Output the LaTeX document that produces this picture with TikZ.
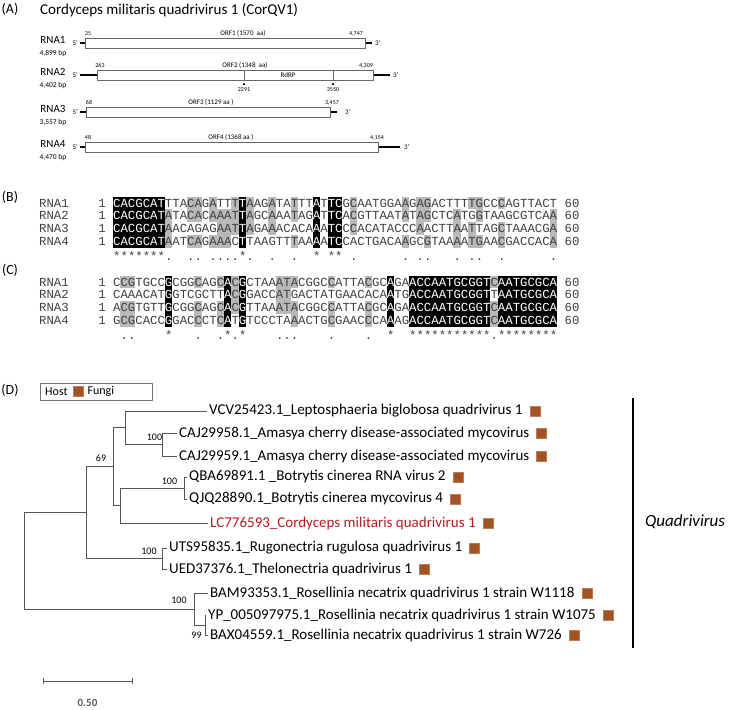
\documentclass[tikz,border=0pt]{standalone}
\usepackage{fontspec}
\setmainfont{Carlito}
\newfontfamily\seqfont{Liberation Mono}
\usetikzlibrary{positioning}

\definecolor{fungi}{RGB}{163,82,34}
\definecolor{alngray}{RGB}{185,185,185}
\definecolor{cordred}{RGB}{180,30,35}
\definecolor{treeline}{RGB}{85,85,85}

\newcommand\w[1]{\textcolor{white}{#1}}

\tikzset{
  panel/.style={font=\fontsize{14}{16}\selectfont, inner sep=0},
  rnaname/.style={font=\fontsize{11}{12}\selectfont, inner sep=0},
  bplab/.style={font=\fontsize{7.5}{8}\selectfont, inner sep=0},
  numlab/.style={font=\fontsize{6}{7}\selectfont, inner sep=0, anchor=base},
  orflab/.style={font=\fontsize{7}{8}\selectfont, inner sep=0, anchor=base},
  endlab/.style={font=\fontsize{7}{8}\selectfont, inner sep=0},
  orf/.style={draw=black!60, fill=white, line width=0.8pt, minimum height=10pt, inner sep=0, anchor=west},
  tail/.style={line width=1.8pt},
  seq/.style={font=\seqfont\fontsize{12.33}{13}\selectfont, inner sep=0, anchor=base west, text=black!75},
  leaf/.style={font=\fontsize{15}{17}\selectfont, inner xsep=2pt, inner ysep=0, anchor=west},
  host/.style={fill=fungi, draw=fungi!75!white, line width=0.6pt, minimum size=10pt, inner sep=0},
  boot/.style={font=\fontsize{10}{11}\selectfont, inner sep=0},
  br/.style={draw=treeline, line width=1pt},
}

% conserved columns (col) and 3-of-4 columns (col/odd row)
\def\bBlack{1,2,3,4,5,6,7,18,28,30,31}
\def\bGray{8/1,11/3,12/3,14/3,15/1,16/1,17/4,19/4,22/4,25/3,33/4,40/3,42/4,43/3,47/1,49/2,50/3,53/2,60/1}
\def\cBlack{8,16,18,38,41,42,43,44,45,46,47,48,49,50,51,53,54,55,56,57,58,59,60}
\def\cGray{2/2,3/2,12/2,15/2,17/4,23/4,24/4,25/2,30/2,35/2,52/2}

\begin{document}
\begin{tikzpicture}[x=1pt,y=-1pt]
\useasboundingbox (0,0) rectangle (729,710);

% (A) genome organisation
\node[panel] (labA) at (10,9) {(A)};
\node[font=\fontsize{15}{17}\selectfont, anchor=west, inner sep=0] (title) at (40,10) {Cordyceps militaris quadrivirus 1 (CorQV1)};

\node[rnaname] (rna1) at (53,40) {RNA1};
\node[bplab] (bp1) at (53,53) {4,899 bp};
\node[endlab, anchor=east] (five1) at (78,43) {5'};
\coordinate (s1) at (80,43);
\node[orf, minimum width=280pt] (orf1) at (85,43) {};
\coordinate (t1) at (372,43);
\node[endlab, anchor=west] (three1) at (375,43) {3'};
\draw[tail] (s1) -- (orf1.west);
\draw[tail] (orf1.east) -- (t1);
\node[numlab] (p1a) at (88,35) {35};
\node[orflab] (orf1lab) at (243,35) {ORF1 (1570~ aa)};
\node[numlab] (p1b) at (356,35) {4,747};

\node[rnaname] (rna2) at (53,72) {RNA2};
\node[bplab] (bp2) at (53,85) {4,402 bp};
\node[endlab, anchor=east] (five2) at (78,75) {5'};
\coordinate (s2) at (80,75);
\node[orf, minimum width=276pt] (orf2) at (97,75) {};
\coordinate (t2) at (390,75);
\node[endlab, anchor=west] (three2) at (393,75) {3'};
\draw[tail] (s2) -- (orf2.west);
\draw[tail] (orf2.east) -- (t2);
\node[numlab] (p2a) at (100,67) {263};
\node[orflab] (orf2lab) at (245,67) {ORF2 (1348~ aa)};
\node[numlab] (p2b) at (366,67) {4,309};
\draw[black!60, line width=0.8pt] (244,70) -- (244,80);
\draw[black!60, line width=0.8pt] (333,70) -- (333,80);
\node[orflab] (rdrp) at (288,77.5) {RdRP};
\fill (244,82.3) -- (242.8,84.8) -- (245.2,84.8) -- cycle;
\fill (333,82.3) -- (331.8,84.8) -- (334.2,84.8) -- cycle;
\node[numlab] (d2a) at (244,91) {2291};
\node[numlab] (d2b) at (333,91) {3550};

\node[rnaname] (rna3) at (53,109) {RNA3};
\node[bplab] (bp3) at (53,122) {3,557 bp};
\node[endlab, anchor=east] (five3) at (78,112) {5'};
\coordinate (s3) at (80,112);
\node[orf, minimum width=244pt] (orf3) at (86,112) {};
\coordinate (t3) at (337,112);
\node[endlab, anchor=west] (three3) at (345,112) {3'};
\draw[tail] (s3) -- (orf3.west);
\draw[tail] (orf3.east) -- (t3);
\node[numlab] (p3a) at (89,104) {68};
\node[orflab] (orf3lab) at (211,104) {ORF3 (1129 aa )};
\node[numlab] (p3b) at (332,104) {3,457};

\node[rnaname] (rna4) at (53,144) {RNA4};
\node[bplab] (bp4) at (53,157) {4,470 bp};
\node[endlab, anchor=east] (five4) at (78,147) {5'};
\coordinate (s4) at (80,147);
\node[orf, minimum width=293pt] (orf4) at (85,147) {};
\coordinate (t4) at (400,147);
\node[endlab, anchor=west] (three4) at (404,147) {3'};
\draw[tail] (s4) -- (orf4.west);
\draw[tail] (orf4.east) -- (t4);
\node[numlab] (p4a) at (88,139) {48};
\node[orflab] (orf4lab) at (231,139) {ORF4 (1368 aa )};
\node[numlab] (p4b) at (377,139) {4,154};

% (B) 5' end alignment
\node[panel] (labB) at (10,197) {(B)};
\foreach \c/\o in \bGray {
  \foreach \r in {1,2,3,4} {
    \ifnum\r=\o\relax\else
      \fill[alngray] (105.6+7.4*\c,184+12.7*\r) rectangle ++(7.4,12.7);
    \fi
  }
  \node[seq] at (105.6+7.4*\c,260) {.};
}
\foreach \c in \bBlack {
  \fill (105.6+7.4*\c,196.7) rectangle ++(7.4,50.8);
  \node[seq] at (105.6+7.4*\c,260) {*};
}
\foreach \r/\nm/\sq in {
  1/RNA1/{\w{CACGCAT}TTACAGATTT\w{T}AAGATATTT\w{A}T\w{TC}GCAATGGAAGAGACTTTTGCCCAGTTACT},
  2/RNA2/{\w{CACGCAT}ATACACAAAT\w{T}AGCAAATAG\w{A}T\w{TC}ACGTTAATATAGCTCATGGTAAGCGTCAA},
  3/RNA3/{\w{CACGCAT}AACAGAGAAT\w{T}AGAAACACA\w{A}A\w{TC}CCACATACCCAACTTAATTAGCTAAACGA},
  4/RNA4/{\w{CACGCAT}AATCAGAAAC\w{T}TAAGTTTAA\w{A}A\w{TC}CACTGACAAGCGTAAAATGAACGACCACA}} {
  \node[seq] (bname\r) at (39,194.35+12.7*\r) {\nm};
  \node[seq] (bfrom\r) at (98.2,194.35+12.7*\r) {1};
  \node[seq] (bseq\r) at (113,194.35+12.7*\r) {\sq};
  \node[seq] (bto\r) at (564.4,194.35+12.7*\r) {60};
}

% (C) 3' end alignment
\node[panel] (labC) at (10,270) {(C)};
\begin{scope}[shift={(0,79)}]
\foreach \c/\o in \cGray {
  \foreach \r in {1,2,3,4} {
    \ifnum\r=\o\relax\else
      \fill[alngray] (105.6+7.4*\c,184+12.7*\r) rectangle ++(7.4,12.7);
    \fi
  }
  \node[seq] at (105.6+7.4*\c,260) {.};
}
\foreach \c in \cBlack {
  \fill (105.6+7.4*\c,196.7) rectangle ++(7.4,50.8);
  \node[seq] at (105.6+7.4*\c,260) {*};
}
\foreach \r/\nm/\sq in {
  1/RNA1/{CCGTGCC\w{G}CGGCAGC\w{A}C\w{G}CTAAATACGGCCATTACGC\w{A}GA\w{ACCAATGCGGT}C\w{AATGCGCA}},
  2/RNA2/{CAAACAT\w{G}GTCGCTT\w{A}C\w{G}GACCATGACTATGAACACA\w{A}TG\w{ACCAATGCGGT}T\w{AATGCGCA}},
  3/RNA3/{ACGTGTT\w{G}CGGCAGC\w{A}C\w{G}TTAAATACGGCCATTACGC\w{A}GA\w{ACCAATGCGGT}C\w{AATGCGCA}},
  4/RNA4/{GCGCACC\w{G}GACCCTC\w{A}T\w{G}TCCCTAAACTGCGAACCCA\w{A}AG\w{ACCAATGCGGT}C\w{AATGCGCA}}} {
  \node[seq] (cname\r) at (39,194.35+12.7*\r) {\nm};
  \node[seq] (cfrom\r) at (98.2,194.35+12.7*\r) {1};
  \node[seq] (cseq\r) at (113,194.35+12.7*\r) {\sq};
  \node[seq] (cto\r) at (564.4,194.35+12.7*\r) {60};
}
\end{scope}

% (D) phylogeny
\node[panel] (labD) at (10,390) {(D)};
\node[draw=black!55, anchor=north west, minimum width=112pt, minimum height=17pt, inner sep=0] (legend) at (40,383) {};
\node[font=\fontsize{12}{13}\selectfont, anchor=west, inner sep=0] (hostlab) at (45,391.5) {Host};
\node[host, right=5pt of hostlab] (hostsq) {};
\node[font=\fontsize{12}{13}\selectfont, right=4pt of hostsq, inner sep=0] (fungilab) {Fungi};

\coordinate (root) at (24,560.8);
\coordinate (nD) at (86,512.6);
\coordinate (nB) at (113,466.7);
\coordinate (nA) at (125,427.7);
\coordinate (nCAJ) at (162,444.5);
\coordinate (nC) at (120,505.5);
\coordinate (nBot) at (184,488);
\coordinate (nRug) at (162,558.5);
\coordinate (nRos) at (194,609);
\coordinate (nRn) at (205,625);

\node[leaf] (vcv) at (207,411) {VCV25423.1\_Leptosphaeria biglobosa quadrivirus 1};
\node[leaf] (caj58) at (177,433) {CAJ29958.1\_Amasya cherry disease-associated mycovirus};
\node[leaf] (caj59) at (177,456) {CAJ29959.1\_Amasya cherry disease-associated mycovirus};
\node[leaf] (qba) at (187,477) {QBA69891.1 \_Botrytis cinerea RNA virus 2};
\node[leaf] (qjq) at (187,499) {QJQ28890.1\_Botrytis cinerea mycovirus 4};
\node[leaf, text=cordred] (lc) at (208,523) {LC776593\_Cordyceps militaris quadrivirus 1};
\node[leaf] (uts) at (167,548) {UTS95835.1\_Rugonectria rugulosa quadrivirus 1};
\node[leaf] (ued) at (167,569) {UED37376.1\_Thelonectria quadrivirus 1};
\node[leaf] (bam) at (208,593) {BAM93353.1\_Rosellinia necatrix quadrivirus 1 strain W1118};
\node[leaf] (yp) at (206,615) {YP\_005097975.1\_Rosellinia necatrix quadrivirus 1 strain W1075};
\node[leaf] (bax) at (208,635) {BAX04559.1\_Rosellinia necatrix quadrivirus 1 strain W726};

\draw[br] (root) |- (nD);
\draw[br] (root) |- (nRos);
\draw[br] (nD) |- (nB);
\draw[br] (nD) |- (nRug);
\draw[br] (nB) |- (nA);
\draw[br] (nB) |- (nC);
\draw[br] (nA) |- (vcv.west);
\draw[br] (nA) |- (nCAJ);
\draw[br] (nCAJ) |- (caj58.west);
\draw[br] (nCAJ) |- (caj59.west);
\draw[br] (nC) |- (nBot);
\draw[br] (nC) |- (lc.west);
\draw[br] (nBot) |- (qba.west);
\draw[br] (nBot) |- (qjq.west);
\draw[br] (nRug) |- (uts.west);
\draw[br] (nRug) |- (ued.west);
\draw[br] (nRos) |- (bam.west);
\draw[br] (nRos) |- (nRn);
\draw[br] (nRn) |- (yp.west);
\draw[br] (nRn) |- (bax.west);

\node[boot] (bs69) at (101,458) {69};
\node[boot] (bsCAJ) at (154.5,437) {100};
\node[boot] (bsBot) at (169.5,481) {100};
\node[boot] (bsRug) at (149,551) {100};
\node[boot] (bsRos) at (179,600) {100};
\node[boot] (bsRn) at (196.5,635) {99};

\node[host, right=5pt of vcv] (hvcv) {};
\node[host, right=5pt of caj58] (hcaj58) {};
\node[host, right=5pt of caj59] (hcaj59) {};
\node[host, right=5pt of qba] (hqba) {};
\node[host, right=5pt of qjq] (hqjq) {};
\node[host, right=5pt of lc] (hlc) {};
\node[host, right=5pt of uts] (huts) {};
\node[host, right=5pt of ued] (hued) {};
\node[host, right=5pt of bam] (hbam) {};
\node[host, right=5pt of yp] (hyp) {};
\node[host, right=5pt of bax] (hbax) {};

\coordinate (qtop) at (633,398);
\coordinate (qbot) at (633,648);
\draw[line width=2.6pt] (qtop) -- (qbot);
\node[font=\itshape\fontsize{17}{20}\selectfont, anchor=west, inner sep=0] (genus) at (645,522) {Quadrivirus};

% scale bar
\coordinate (sbl) at (43,681);
\coordinate (sbr) at (132,681);
\draw[treeline, line width=1pt] (sbl) -- (sbr);
\draw[treeline, line width=1pt] ([yshift=3pt]sbl) -- ([yshift=-3pt]sbl);
\draw[treeline, line width=1pt] ([yshift=3pt]sbr) -- ([yshift=-3pt]sbr);
\node[font=\bfseries\fontsize{11}{12}\selectfont, text=black!65, inner sep=0] (sblab) at (87.5,703) {0.50};
\end{tikzpicture}
\end{document}
